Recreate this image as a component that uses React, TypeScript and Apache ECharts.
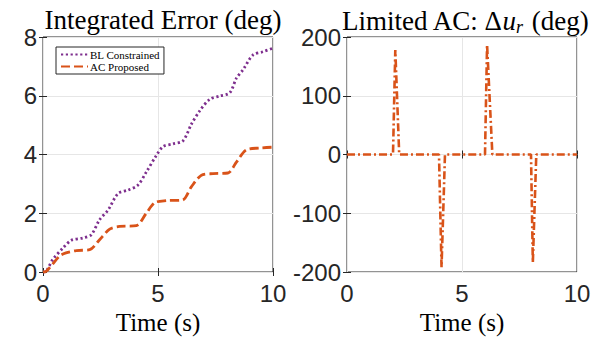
import React, { useEffect, useRef } from "react";
import * as echarts from "echarts";

const blTime = [0, 0.07, 0.43, 0.87, 1.23, 1.74, 2.1, 2.46, 2.83, 3.26, 3.7, 4.13, 4.49, 4.93, 5.22, 5.65, 6.09, 6.45, 6.81, 7.25, 7.68, 8.12, 8.41, 8.7, 9.13, 9.57, 10];
const blValue = [0, 0, 0.43, 0.82, 1.08, 1.16, 1.27, 1.78, 2.11, 2.67, 2.79, 2.96, 3.4, 3.97, 4.27, 4.36, 4.47, 5.03, 5.48, 5.88, 5.99, 6.1, 6.6, 6.89, 7.39, 7.5, 7.62];

const acTime = [0, 0.07, 0.29, 0.72, 1.0, 1.45, 2.03, 2.46, 2.9, 3.33, 4.06, 4.49, 4.86, 5.36, 6.06, 6.45, 6.88, 7.39, 8.04, 8.41, 8.84, 9.42, 10];
const acValue = [0, 0, 0.15, 0.54, 0.65, 0.73, 0.76, 1.1, 1.46, 1.55, 1.58, 2.0, 2.36, 2.43, 2.45, 2.9, 3.29, 3.35, 3.37, 3.74, 4.16, 4.22, 4.25];

const duTime = [0, 2.0, 2.1, 2.27, 4.0, 4.11, 4.26, 6.0, 6.09, 6.32, 8.0, 8.08, 8.23, 10];
const duValue = [0, 0, 178, 0, 0, -192, 0, 0, 187, 0, 0, -184, 0, 0];

const leftYTicks = [0, 2, 4, 6, 8];
const rightYTicks = [-200, -100, 0, 100, 200];
const xTicks = [0, 5, 10];

const PURPLE = "#7E2F8E";
const ORANGE = "#D95319";
const AXIS = "#262626";
const GRIDC = "#e6e6e6";
const SERIF = "'Liberation Serif', 'DejaVu Serif', serif";
const SANS = "'Liberation Sans', Arial, sans-serif";

const zip = (a: number[], b: number[]) => a.map((v, i) => [v, b[i]]);

export default function App() {
  const ref = useRef<HTMLDivElement>(null);
  useEffect(() => {
    if (!ref.current) return;
    const chart = echarts.init(ref.current, undefined, { renderer: "svg" });
    const xBottom = (gridIndex: number) => ({
      type: "value",
      gridIndex,
      min: xTicks[0],
      max: xTicks[xTicks.length - 1],
      interval: 5,
      name: "Time (s)",
      nameLocation: "middle",
      nameGap: 36,
      nameTextStyle: { fontFamily: SERIF, fontSize: 25, color: "#000" },
      axisLine: { show: false },
      axisTick: { show: true, inside: true, length: 4, lineStyle: { color: AXIS } },
      axisLabel: { fontFamily: SANS, fontSize: 24, color: AXIS, margin: 9 },
      splitLine: { show: true, lineStyle: { color: GRIDC, width: 1 } },
    });
    const xTop = (gridIndex: number) => ({
      type: "value",
      gridIndex,
      position: "top",
      min: 0,
      max: 10,
      interval: 5,
      axisLine: { show: false },
      axisTick: { show: true, inside: true, length: 4, lineStyle: { color: AXIS } },
      axisLabel: { show: false },
      splitLine: { show: false },
    });
    const yLeft = (gridIndex: number, min: number, max: number, interval: number) => ({
      type: "value",
      gridIndex,
      min,
      max,
      interval,
      axisLine: { show: false },
      axisTick: { show: true, inside: true, length: 4, lineStyle: { color: AXIS } },
      axisLabel: { fontFamily: SANS, fontSize: 24, color: AXIS, margin: 6 },
      splitLine: { show: true, lineStyle: { color: GRIDC, width: 1 } },
    });
    const yRight = (gridIndex: number, min: number, max: number, interval: number) => ({
      type: "value",
      gridIndex,
      position: "right",
      min,
      max,
      interval,
      axisLine: { show: false },
      axisTick: { show: true, inside: true, length: 4, lineStyle: { color: AXIS } },
      axisLabel: { show: false },
      splitLine: { show: false },
    });
    chart.setOption({
      animation: false,
      backgroundColor: "#ffffff",
      title: [
        {
          text: "Integrated Error (deg)",
          left: 158,
          top: 1,
          textAlign: "center",
          textStyle: { fontFamily: SERIF, fontSize: 27, fontWeight: "normal", color: "#000" },
        },
        {
          text: "Limited AC: Δ{it|u}{sub|r} (deg)",
          left: 460,
          top: 1,
          textAlign: "center",
          textStyle: {
            fontFamily: SERIF,
            fontSize: 27,
            fontWeight: "normal",
            color: "#000",
            rich: {
              it: { fontFamily: SERIF, fontSize: 27, fontStyle: "italic", color: "#000" },
              sub: { fontFamily: SERIF, fontSize: 18, fontStyle: "italic", color: "#000", padding: [12, 2, 0, 0], verticalAlign: "bottom" },
            },
          },
        },
      ],
      legend: {
        show: true,
        left: 56,
        top: 47,
        orient: "vertical",
        data: ["BL Constrained", "AC Proposed"],
        backgroundColor: "#ffffff",
        borderColor: AXIS,
        borderWidth: 1,
        borderRadius: 0,
        padding: [2, 4, 2, 4],
        itemGap: 1,
        itemWidth: 27,
        itemHeight: 11,
        itemStyle: { opacity: 0 },
        textStyle: { fontFamily: SERIF, fontSize: 11, color: "#000", padding: [0, 0, 0, -3] },
      },
      grid: [
        { left: 43, top: 37, width: 230, height: 235, show: true, borderColor: AXIS, borderWidth: 1, backgroundColor: "transparent" },
        { left: 347, top: 37, width: 230, height: 235, show: true, borderColor: AXIS, borderWidth: 1, backgroundColor: "transparent" },
      ],
      xAxis: [xBottom(0), xBottom(1), xTop(0), xTop(1)],
      yAxis: [
        yLeft(0, leftYTicks[0], leftYTicks[leftYTicks.length - 1], 2),
        yLeft(1, rightYTicks[0], rightYTicks[rightYTicks.length - 1], 100),
        yRight(0, 0, 8, 2),
        yRight(1, -200, 200, 100),
      ],
      series: [
        {
          name: "BL Constrained",
          type: "line",
          xAxisIndex: 0,
          yAxisIndex: 0,
          data: zip(blTime, blValue),
          showSymbol: false,
          symbol: "none",
          smooth: 0.3,
          lineStyle: { color: PURPLE, width: 2.8, type: [2.2, 2.6] },
          itemStyle: { color: PURPLE },
        },
        {
          name: "AC Proposed",
          type: "line",
          xAxisIndex: 0,
          yAxisIndex: 0,
          data: zip(acTime, acValue),
          showSymbol: false,
          symbol: "none",
          smooth: 0.3,
          lineStyle: { color: ORANGE, width: 2.8, type: [9, 4] },
          itemStyle: { color: ORANGE },
        },
        {
          name: "du",
          type: "line",
          xAxisIndex: 1,
          yAxisIndex: 1,
          data: zip(duTime, duValue),
          showSymbol: false,
          symbol: "none",
          lineStyle: { color: ORANGE, width: 2.6, type: [8, 3, 2, 3] },
          itemStyle: { color: ORANGE },
        },
      ],
    });
    return () => chart.dispose();
  }, []);
  return <div ref={ref} style={{ width: 598, height: 340, position: "absolute", left: 0, top: 0 }} />;
}
